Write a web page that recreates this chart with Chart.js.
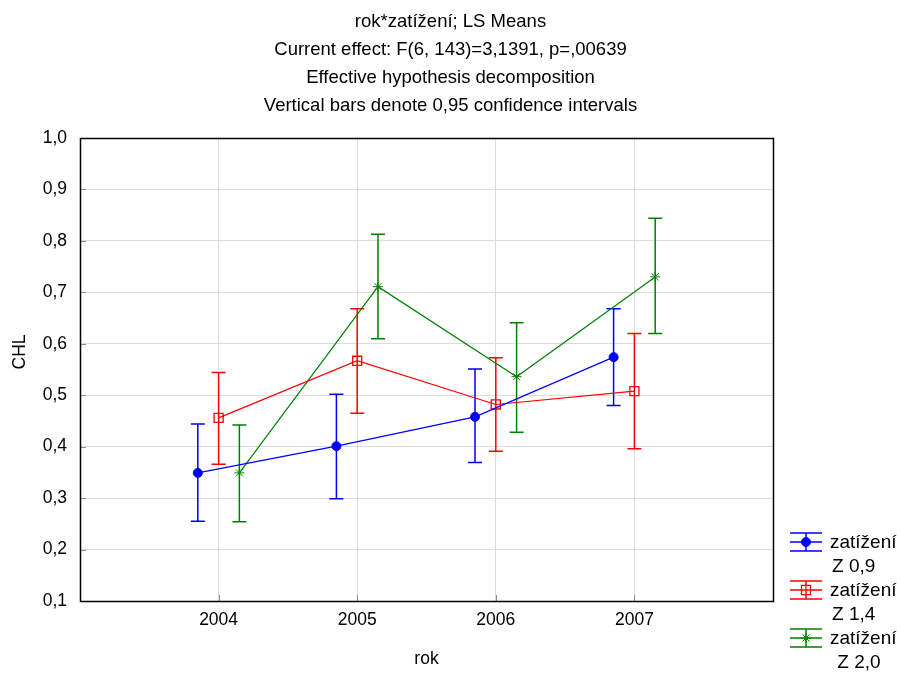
<!DOCTYPE html>
<html>
<head>
<meta charset="utf-8">
<script src="https://cdn.jsdelivr.net/npm/chart.js@4.4.0/dist/chart.umd.min.js"></script>
<style>
  html, body { margin: 0; padding: 0; background: #fff; }
  canvas { display: block; }
</style>
</head>
<body>
<canvas id="c" width="901" height="673"></canvas>
<script>
// Years on the x axis
const years = ['2004', '2005', '2006', '2007'];

// LS means of CHL with 0.95 confidence limits, per load level
const meanZ09 = [0.349, 0.401, 0.458, 0.574];
const lowZ09  = [0.255, 0.299, 0.369, 0.480];
const highZ09 = [0.444, 0.502, 0.551, 0.668];

const meanZ14 = [0.456, 0.567, 0.482, 0.508];
const lowZ14  = [0.366, 0.465, 0.391, 0.396];
const highZ14 = [0.544, 0.668, 0.573, 0.620];

const meanZ20 = [0.349, 0.711, 0.536, 0.730];
const lowZ20  = [0.254, 0.610, 0.428, 0.620];
const highZ20 = [0.442, 0.813, 0.641, 0.844];

// Legend entries (two lines each)
const seriesNames = [['zatížení', 'Z 0,9'], ['zatížení', 'Z 1,4'], ['zatížení', ' Z 2,0']];

const titleLines = [
  'rok*zatížení; LS Means',
  'Current effect: F(6, 143)=3,1391, p=,00639',
  'Effective hypothesis decomposition',
  'Vertical bars denote 0,95 confidence intervals'
];

const yTickLabels = ['0,1', '0,2', '0,3', '0,4', '0,5', '0,6', '0,7', '0,8', '0,9', '1,0'];

const FONT = "'Liberation Sans', Arial, sans-serif";
const BLUE = '#0000ff', RED = '#ff0000', GREEN = '#008000';

function points(means, shift) {
  return means.map((m, i) => ({ x: i + 1 + shift, y: m }));
}

const datasets = [
  { label: 'zatížení Z 0,9', data: points(meanZ09, -0.15), low: lowZ09, high: highZ09, yAxisID: 'y',
    borderColor: BLUE, backgroundColor: BLUE, pointStyle: 'circle', pointRadius: 4.5,
    pointBorderWidth: 1, borderWidth: 1.2 },
  { label: 'zatížení Z 1,4', data: points(meanZ14, 0), low: lowZ14, high: highZ14, yAxisID: 'y',
    borderColor: RED, backgroundColor: 'rgba(255,255,255,0)', pointStyle: 'rect', pointRadius: 6.4,
    pointBorderWidth: 1.3, borderWidth: 1.2 },
  { label: 'zatížení Z 2,0', data: points(meanZ20, 0.15), low: lowZ20, high: highZ20, yAxisID: 'y',
    borderColor: GREEN, backgroundColor: GREEN, pointStyle: 'star', pointRadius: 5,
    pointBorderWidth: 1, borderWidth: 1.2 }
];

// Error bars, frame, inner tick marks, axis titles and legend
const decorations = {
  id: 'decorations',
  beforeDatasetsDraw(chart) {
    const ctx = chart.ctx;
    const xs = chart.scales.x, ys = chart.scales.y;
    ctx.save();
    chart.data.datasets.forEach(ds => {
      ctx.strokeStyle = ds.borderColor;
      ctx.lineWidth = 1.5;
      ds.data.forEach((p, i) => {
        const px = xs.getPixelForValue(p.x);
        const yl = ys.getPixelForValue(ds.low[i]);
        const yh = ys.getPixelForValue(ds.high[i]);
        ctx.beginPath();
        ctx.moveTo(px, yl); ctx.lineTo(px, yh);
        ctx.moveTo(px - 7, yl); ctx.lineTo(px + 7, yl);
        ctx.moveTo(px - 7, yh); ctx.lineTo(px + 7, yh);
        ctx.stroke();
      });
    });
    ctx.restore();
  },
  afterDraw(chart) {
    const ctx = chart.ctx;
    const a = chart.chartArea;
    const xs = chart.scales.x, ys = chart.scales.y;
    ctx.save();

    // inner tick marks
    ctx.strokeStyle = '#8c8c8c';
    ctx.lineWidth = 1;
    ctx.beginPath();
    ys.ticks.forEach(t => {
      const y = Math.round(ys.getPixelForValue(t.value)) + 0.5;
      ctx.moveTo(a.left, y); ctx.lineTo(a.left + 6, y);
    });
    xs.ticks.forEach(t => {
      const x = Math.round(xs.getPixelForValue(t.value)) + 0.5;
      ctx.moveTo(x, a.bottom); ctx.lineTo(x, a.bottom - 6);
    });
    ctx.stroke();

    // frame
    ctx.strokeStyle = '#000';
    ctx.lineWidth = 1.5;
    ctx.strokeRect(Math.round(a.left) + 0.5, Math.round(a.top) + 0.5,
                   Math.round(a.right - a.left), Math.round(a.bottom - a.top));

    // axis titles
    ctx.fillStyle = '#000';
    ctx.font = '17.5px ' + FONT;
    ctx.textAlign = 'center';
    ctx.textBaseline = 'middle';
    ctx.fillText('rok', (a.left + a.right) / 2, 659);
    ctx.save();
    ctx.translate(20, 352);
    ctx.rotate(-Math.PI / 2);
    ctx.fillText('CHL', 0, 0);
    ctx.restore();

    // legend
    const lx0 = 790, lx1 = 822, lxc = (lx0 + lx1) / 2;
    const centers = [542, 590, 638];
    ctx.font = '19px ' + FONT;
    chart.data.datasets.forEach((ds, k) => {
      const cy = centers[k];
      ctx.strokeStyle = ds.borderColor;
      ctx.lineWidth = 1.5;
      ctx.beginPath();
      [-9, 0, 9].forEach(d => { ctx.moveTo(lx0, cy + d); ctx.lineTo(lx1, cy + d); });
      ctx.moveTo(lxc, cy - 9); ctx.lineTo(lxc, cy + 9);
      ctx.stroke();
      ctx.fillStyle = ds.pointStyle === 'rect' ? '#fff' : ds.backgroundColor;
      ctx.lineWidth = ds.pointBorderWidth;
      Chart.helpers.drawPoint(ctx, {
        pointStyle: ds.pointStyle, radius: ds.pointRadius,
        borderWidth: ds.pointBorderWidth, rotation: 0
      }, lxc, cy);
      if (ds.pointStyle === 'rect') {
        // bar and line show through the hollow square
        ctx.beginPath(); ctx.moveTo(lxc, cy - 4.5); ctx.lineTo(lxc, cy + 4.5);
        ctx.moveTo(lxc - 4.5, cy); ctx.lineTo(lxc + 4.5, cy); ctx.stroke();
      }
      ctx.fillStyle = '#000';
      ctx.textAlign = 'left';
      ctx.fillText(seriesNames[k][0], 830, cy + 1);
      ctx.fillText(seriesNames[k][1], 832, cy + 25);
    });
    ctx.restore();
  }
};

new Chart(document.getElementById('c'), {
  type: 'line',
  data: { datasets },
  options: {
    responsive: false,
    animation: false,
    devicePixelRatio: 1,
    layout: { padding: { left: 0, right: 0, top: 0, bottom: 0 } },
    plugins: {
      legend: { display: false },
      tooltip: { enabled: false },
      title: {
        display: true,
        text: titleLines,
        color: '#000',
        font: { family: FONT, size: 18.5, weight: 'normal', lineHeight: 28 / 18.5 },
        padding: { top: 8, bottom: 18 }
      }
    },
    elements: { line: { tension: 0 } },
    scales: {
      x: {
        type: 'linear', min: 0, max: 5,
        afterBuildTicks: s => { s.ticks = years.map((_, i) => ({ value: i + 1 })); },
        afterFit: s => { s.height = 72; },
        ticks: {
          color: '#000', padding: 9, maxRotation: 0,
          font: { family: FONT, size: 17.5 },
          callback: v => years[Math.round(v) - 1]
        },
        grid: { color: '#dcdcdc', drawTicks: false },
        border: { display: true, color: '#000', width: 1 }
      },
      y: {
        type: 'linear', position: 'left', min: 0.1, max: 1.0,
        afterBuildTicks: s => { s.ticks = yTickLabels.map((_, i) => ({ value: 0.1 + i * 0.1 })); },
        afterFit: s => { s.width = 80; },
        ticks: {
          color: '#000', padding: 13,
          font: { family: FONT, size: 17.5 },
          callback: (v, i) => yTickLabels[i]
        },
        grid: { color: '#dcdcdc', drawTicks: false },
        border: { display: true, color: '#000', width: 1 }
      },
      // empty strip on the right that holds the legend
      legendStrip: {
        type: 'linear', axis: 'y', position: 'right', min: 0, max: 1,
        afterFit: s => { s.width = 128; },
        ticks: { display: false },
        grid: { display: false, drawTicks: false },
        border: { display: false }
      }
    }
  },
  plugins: [decorations]
});
</script>
</body>
</html>
